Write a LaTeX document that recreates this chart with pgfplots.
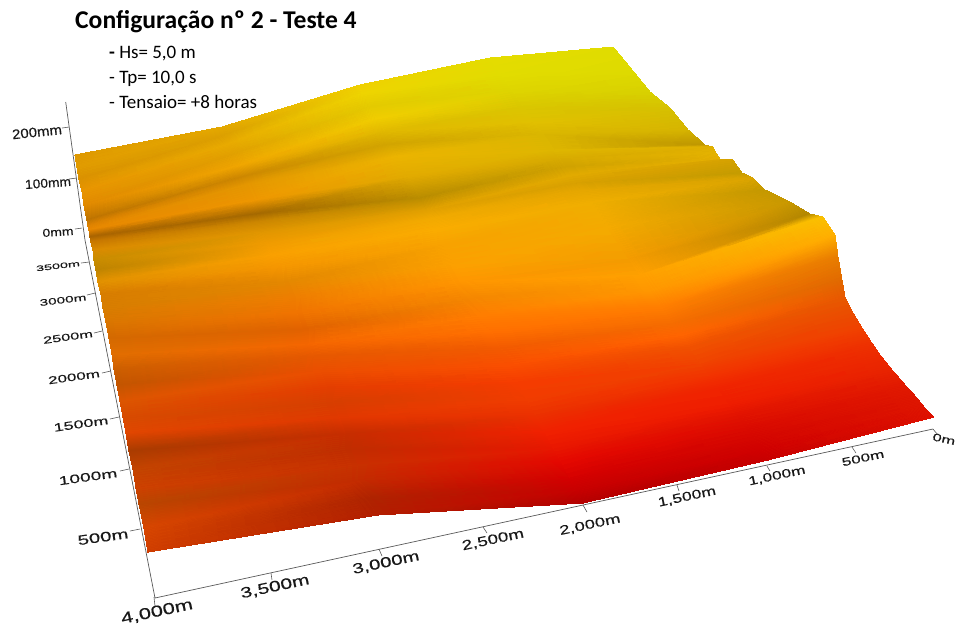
\documentclass[border=0pt]{standalone}
\usepackage{pgfplots}
\usepackage{pgfplotstable}
\usepackage{fontspec}
\pgfplotsset{compat=1.18}
\setmainfont{Carlito}
\newfontfamily\lib[FakeBold=0.3]{Liberation Sans}
\newcommand{\tl}[6]{\node[rotate=#3,inner sep=0pt,anchor=center,text=black!90] at (axis cs:#1,#2,0) {\resizebox{#4pt}{#5pt}{\lib #6}};}
\pgfplotstableread{
x y r g
75 155 222 152
222 127 228 168
360 85 240 208
490 58 228 220
613 47 224 220
77 167 225 155
225 135 220 160
364 93 238 212
501 74 226 220
632 70 222 218
79 179 218 145
229 144 232 170
371 106 228 202
512 90 222 212
650 92 216 208
82 191 232 148
233 154 225 160
378 118 240 205
523 106 218 198
670 108 214 192
84 205 226 138
238 166 240 165
385 131 225 185
534 122 225 192
688 130 214 180
87 220 190 115
242 177 205 135
391 144 210 165
543 134 218 182
705 145 190 150
88 226 222 130
245 185 228 150
398 156 235 180
554 150 222 182
713 147 224 176
89 230 232 135
252 201 238 150
409 177 225 170
560 159 215 170
716 153 228 178
90 237 170 100
257 214 165 105
420 198 185 140
565 167 208 162
720 159 228 175
91 242 200 120
260 222 205 135
424 204 205 150
571 175 225 170
732 159 214 162
93 250 218 138
264 232 225 150
427 210 225 160
576 183 216 160
742 173 196 155
94 260 200 140
269 243 240 155
431 219 242 170
582 191 230 167
753 178 218 164
96 270 190 132
273 255 250 160
437 229 250 172
590 203 240 174
765 190 196 152
98 282 225 145
278 267 245 150
445 244 248 162
607 227 244 170
790 202 200 152
101 294 215 125
284 282 228 135
456 265 252 160
629 259 244 155
810 214 178 135
103 308 215 125
291 298 238 125
465 281 255 150
640 275 255 160
823 217 250 192
106 322 218 118
297 313 240 115
474 298 245 135
651 291 255 150
835 235 255 175
109 338 212 105
303 329 225 98
483 315 255 125
662 307 255 125
838 257 232 125
112 354 225 110
309 344 245 102
492 332 255 110
673 323 245 108
842 280 225 105
114 369 205 95
314 356 230 88
500 348 242 90
682 335 255 100
845 297 232 88
117 385 195 85
320 371 235 78
509 365 250 78
690 347 240 80
853 313 235 75
120 401 220 85
327 387 228 62
518 382 245 60
701 364 240 65
862 328 240 65
123 417 215 75
333 402 215 62
527 399 240 60
710 376 242 50
871 342 238 50
126 433 225 70
339 418 225 56
536 415 235 48
718 388 240 35
880 355 236 42
129 451 170 60
345 434 198 45
545 432 240 32
729 404 238 28
892 370 232 35
133 469 195 68
351 449 192 45
554 449 232 22
737 416 225 18
905 385 225 25
136 488 205 65
358 465 200 48
561 461 228 8
746 428 218 10
915 396 222 22
139 504 185 70
364 480 195 42
570 478 212 0
754 440 212 5
924 407 222 20
144 528 215 70
371 498 175 35
576 490 200 0
761 450 208 0
929 412 222 18
148 552 208 62
378 515 178 30
583 503 180 0
768 460 200 0
934 417 222 16
}\surfdata
\begin{document}
\begin{tikzpicture}
\useasboundingbox (0,0) rectangle (956pt,641pt);
\begin{axis}[
  scale only axis, width=956pt, height=641pt,
  view={0}{90},
  xmin=0, xmax=956, ymin=0, ymax=641, zmin=-1, zmax=1,
  y dir=reverse,
  hide axis, clip=false,
]
\addplot3[surf, shader=interp, mesh/rows=30, mesh/cols=5,
  mesh/color input=explicit mathparse,
  point meta={symbolic={\thisrow{r}/255,\thisrow{g}/255,0}}]
  table[x=x,y=y,z expr=0]{\surfdata};
% axes
\addplot3[gray!70!black,line width=0.7pt] coordinates {(65.7,102,0) (85,240,0) (155,598,0) (933,429,0)};
% z ticks
\addplot3[gray!70!black,line width=0.6pt] coordinates {(69,127,0) (62,128,0)};
\addplot3[gray!70!black,line width=0.6pt] coordinates {(76.7,178,0) (69,179,0)};
\addplot3[gray!70!black,line width=0.6pt] coordinates {(82,228,0) (75,229,0)};
% y ticks
\addplot3[gray!70!black,line width=0.6pt] coordinates {(89,262,0) (81,263,0)};
\addplot3[gray!70!black,line width=0.6pt] coordinates {(95,293,0) (87,295,0)};
\addplot3[gray!70!black,line width=0.6pt] coordinates {(102,331,0) (94,333,0)};
\addplot3[gray!70!black,line width=0.6pt] coordinates {(110.7,371,0) (102,373,0)};
\addplot3[gray!70!black,line width=0.6pt] coordinates {(119,417,0) (110,419,0)};
\addplot3[gray!70!black,line width=0.6pt] coordinates {(129,469,0) (120,471,0)};
\addplot3[gray!70!black,line width=0.6pt] coordinates {(140,529,0) (130,531,0)};
% x ticks
\addplot3[gray!70!black,line width=0.6pt] coordinates {(154,597,0) (155,606,0)};
\addplot3[gray!70!black,line width=0.6pt] coordinates {(271,573,0) (272,580,0)};
\addplot3[gray!70!black,line width=0.6pt] coordinates {(379,549,0) (382,556,0)};
\addplot3[gray!70!black,line width=0.6pt] coordinates {(483,527,0) (487,533,0)};
\addplot3[gray!70!black,line width=0.6pt] coordinates {(583,505,0) (587,512,0)};
\addplot3[gray!70!black,line width=0.6pt] coordinates {(677,485,0) (679,491,0)};
\addplot3[gray!70!black,line width=0.6pt] coordinates {(767,466,0) (770,471,0)};
\addplot3[gray!70!black,line width=0.6pt] coordinates {(852,447,0) (856,453,0)};
\addplot3[gray!70!black,line width=0.6pt] coordinates {(933,429,0) (938,435,0)};
% x labels
\tl{157}{612}{12}{73}{11}{4,000m}
\tl{275}{587}{12}{70}{10.5}{3,500m}
\tl{386}{563}{12}{68}{10}{3,000m}
\tl{493}{540}{12}{63}{9.5}{2,500m}
\tl{590}{525}{12}{62}{9}{2,000m}
\tl{687}{497}{12}{59}{9}{1,500m}
\tl{777}{476}{12}{58}{8.5}{1,000m}
\tl{863}{458}{12}{43}{8}{500m}
\tl{944}{439}{-12}{23}{7.5}{0m}
% y labels
\tl{103}{537}{8}{51}{9.5}{500m}
\tl{88}{477}{8}{59}{8.5}{1000m}
\tl{81}{424}{8}{55}{8}{1500m}
\tl{74}{377}{8}{52}{7.5}{2000m}
\tl{68}{337}{8}{50}{7}{2500m}
\tl{63}{300}{7}{47}{6.5}{3000m}
\tl{58}{266}{7}{44}{5.5}{3500m}
\tl{58}{232}{4}{31}{8}{0mm}
\tl{48}{183}{4}{46}{9}{100mm}
\tl{37}{132}{6}{50}{9.5}{200mm}
% texts
\node[anchor=west,inner sep=0pt] at (axis cs:75,22,0) {\bfseries\fontsize{25.6}{28}\selectfont Configuração nº 2 - Teste 4};
\node[anchor=west,inner sep=0pt] at (axis cs:109,54,0) {\fontsize{19}{21}\selectfont\textbf{-} Hs= 5,0 m};
\node[anchor=west,inner sep=0pt] at (axis cs:109,79,0) {\fontsize{19}{21}\selectfont - Tp= 10,0 s};
\node[anchor=west,inner sep=0pt] at (axis cs:109,102,0) {\fontsize{19}{21}\selectfont - Tensaio= +8 horas};
\end{axis}
\end{tikzpicture}
\end{document}
